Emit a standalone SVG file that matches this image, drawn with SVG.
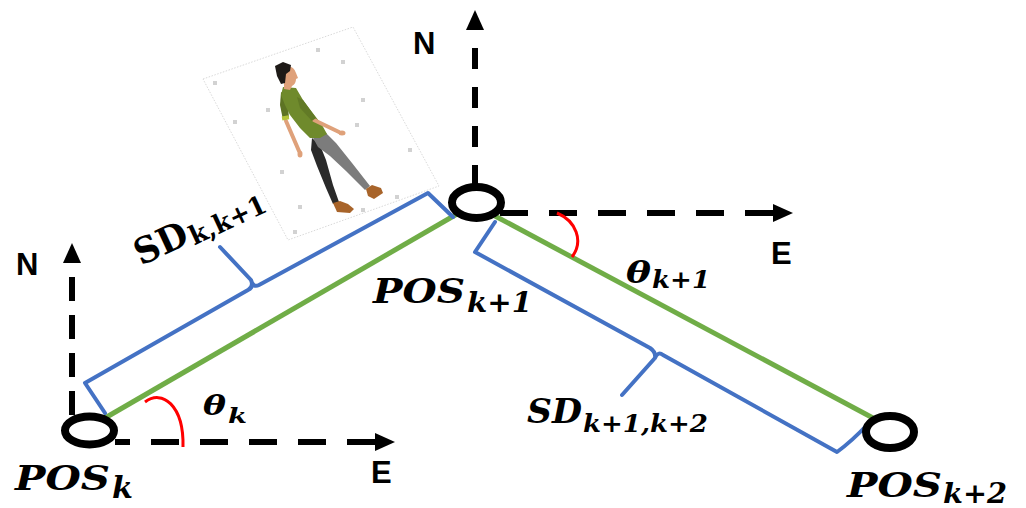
<svg xmlns="http://www.w3.org/2000/svg" width="1026" height="508" viewBox="0 0 1026 508">
  <defs>
    <style>
      .axis { fill: none; stroke: #000; stroke-width: 6; }
      .ring { fill: #fff; stroke: #000; stroke-width: 8; }
      .path-seg { stroke: #70ad47; stroke-width: 5; stroke-linecap: butt; fill: none; }
      .brace { fill: none; stroke: #4472c4; stroke-width: 4; stroke-linejoin: round; stroke-linecap: round; }
      .angle { fill: none; stroke: #ff0000; stroke-width: 3; }
      .dir { font-family: "Liberation Sans", Arial, sans-serif; font-weight: bold; font-size: 31px; fill: #000; }
      .math { font-family: "DejaVu Serif", "Liberation Serif", serif; font-weight: bold; font-style: italic; fill: #000; }
      .up { font-family: "DejaVu Serif", "Liberation Serif", serif; font-weight: bold; fill: #000; }
      .dot { fill: #d2d2d2; }
      .skin { fill: #dfa17a; }
    </style>
    <marker id="head" markerUnits="userSpaceOnUse" markerWidth="22" markerHeight="20" refX="0" refY="9" orient="auto-start-reverse">
      <path d="M0 0 L20 9 L0 18 Z" fill="#000"/>
    </marker>
  </defs>

  <rect width="1026" height="508" fill="#fff"/>

  <!-- pedestrian card -->
  <g id="walker">
    <polygon points="203,79 353,27 439,186 288,240" fill="#fff" stroke="#cfcfcf" stroke-width="0.8" stroke-dasharray="1.5 1.5"/>
    <g>
      <rect class="dot" x="213" y="81" width="4" height="4"/>
      <rect class="dot" x="233" y="120" width="4" height="4"/>
      <rect class="dot" x="266" y="108" width="4" height="4"/>
      <rect class="dot" x="280" y="170" width="4" height="4"/>
      <rect class="dot" x="298" y="205" width="4" height="4"/>
      <rect class="dot" x="293" y="230" width="4" height="4"/>
      <rect class="dot" x="316" y="48" width="4" height="4"/>
      <rect class="dot" x="341" y="60" width="4" height="4"/>
      <rect class="dot" x="361" y="98" width="4" height="4"/>
      <rect class="dot" x="355" y="123" width="4" height="4"/>
      <rect class="dot" x="408" y="148" width="4" height="4"/>
      <rect class="dot" x="395" y="195" width="4" height="4"/>
      <rect class="dot" x="361" y="208" width="4" height="4"/>
    </g>
    <!-- figure -->
    <line x1="286" y1="121" x2="299" y2="151" stroke="#dfa17a" stroke-width="4" stroke-linecap="round"/>
    <ellipse class="skin" cx="300" cy="154" rx="2.5" ry="3.5"/>
    <polygon points="312,138 320,145 326,160 333,185 339,202 333,204 326,188 317,166 311,150" fill="#2a2a2a"/>
    <polygon points="312,136 326,133 336,143 352,163 370,186 365,190 346,171 330,156 318,147" fill="#7c7c7c"/>
    <polygon points="333,203 340,201 348,204 354,209 350,213 337,212" fill="#a8642a"/>
    <polygon points="366,189 372,185 381,188 383,193 374,199 368,196" fill="#a8642a"/>
    <polygon points="281,92 287,95 289,118 283,120 280,105" fill="#5d7324"/>
    <rect x="282" y="116" width="7" height="4" fill="#b4c43a" transform="rotate(-10 285 118)"/>
    <polygon points="283,87 296,88 303,100 312,112 322,125 327,134 320,138 310,138 300,128 290,115 285,105 281,95" fill="#6f8a2c"/>
    <line x1="314" y1="120" x2="339" y2="132" stroke="#dfa17a" stroke-width="4" stroke-linecap="round"/>
    <ellipse class="skin" cx="342" cy="133" rx="3.5" ry="2.5"/>
    <polygon points="297,97 303,100 316,118 312,121 300,108" fill="#627a26"/>
    <path class="skin" d="M284 67 Q293 64 296 73 L298 78 L296 79 Q296 84 292 86 L290 90 L284 89 Z"/>
    <polygon points="275,66 283,62 291,65 290,71 286,74 285,83 281,84 277,76" fill="#1e1a17"/>
  </g>

  <!-- compass axes -->
  <g id="axes">
    <path class="axis" d="M475 30 L475 186" stroke-dasharray="21 18" stroke-dashoffset="21" marker-start="url(#head)"/>
    <path class="axis" d="M773 213 L500 213" stroke-dasharray="28 21" marker-start="url(#head)"/>
    <path class="axis" d="M72 263 L72 416" stroke-dasharray="24 14" stroke-dashoffset="24" marker-start="url(#head)"/>
    <path class="axis" d="M375 442 L115 442" stroke-dasharray="28 21" marker-start="url(#head)"/>
    <text class="dir" x="413" y="54">N</text>
    <text class="dir" x="771" y="264">E</text>
    <text class="dir" x="16" y="275">N</text>
    <text class="dir" x="371" y="483">E</text>
  </g>

  <!-- step segments between positions -->
  <g id="connectors">
    <line class="path-seg" x1="105" y1="418" x2="457" y2="214"/>
    <line class="path-seg" x1="495" y1="216" x2="873" y2="418"/>
  </g>

  <!-- step distance braces -->
  <g id="braces">
    <path class="brace" d="M105 413 L85 383 L248 290 Q254 287 251 280 L220 247 M251 280 Q253 288 259 285 L428 193 L453 217"/>
    <path class="brace" d="M495 222 L475 252 L650 348 Q656 352 655 358 L622 395 M655 358 Q658 351 663 355 L837 452 Q852 441 867 425"/>
    <g transform="translate(141 266) rotate(-25)">
      <text class="up" x="0" y="0" font-size="36" textLength="55" lengthAdjust="spacingAndGlyphs">SD</text>
      <text class="up" x="57" y="4" font-size="26" textLength="82" lengthAdjust="spacingAndGlyphs">k,k+1</text>
    </g>
    <text class="math" x="527" y="423" font-size="34" textLength="55" lengthAdjust="spacingAndGlyphs">SD</text>
    <text class="math" x="583" y="432" font-size="25" textLength="125" lengthAdjust="spacingAndGlyphs">k+1,k+2</text>
  </g>

  <!-- heading angles -->
  <g id="angles">
    <path class="angle" d="M145 402 C162 389 184 405 183 447"/>
    <path class="angle" d="M557 213 C576 221 584 241 572 257"/>
    <text class="math" x="203" y="415" font-size="27" textLength="23" lengthAdjust="spacingAndGlyphs">θ</text>
    <text class="math" x="228" y="423" font-size="20" textLength="19" lengthAdjust="spacingAndGlyphs">k</text>
    <text class="math" x="626" y="283" font-size="30" textLength="25" lengthAdjust="spacingAndGlyphs">θ</text>
    <text class="math" x="652" y="288" font-size="24" textLength="58" lengthAdjust="spacingAndGlyphs">k+1</text>
  </g>

  <!-- positions -->
  <g id="pos-k">
    <ellipse class="ring" cx="89.5" cy="430.5" rx="24.5" ry="14"/>
    <text class="math" x="15" y="490" font-size="34" textLength="95" lengthAdjust="spacingAndGlyphs">POS</text>
    <text class="math" x="112" y="498" font-size="30" textLength="21" lengthAdjust="spacingAndGlyphs">k</text>
  </g>
  <g id="pos-k1">
    <ellipse class="ring" cx="476.5" cy="202.5" rx="24.5" ry="15.5"/>
    <text class="math" x="373" y="303" font-size="34" textLength="92" lengthAdjust="spacingAndGlyphs">POS</text>
    <text class="math" x="467" y="312" font-size="28" textLength="65" lengthAdjust="spacingAndGlyphs">k+1</text>
  </g>
  <g id="pos-k2">
    <ellipse class="ring" cx="890" cy="432" rx="24" ry="16"/>
    <text class="math" x="847" y="497" font-size="34" textLength="95" lengthAdjust="spacingAndGlyphs">POS</text>
    <text class="math" x="943" y="503" font-size="28" textLength="64" lengthAdjust="spacingAndGlyphs">k+2</text>
  </g>
</svg>
